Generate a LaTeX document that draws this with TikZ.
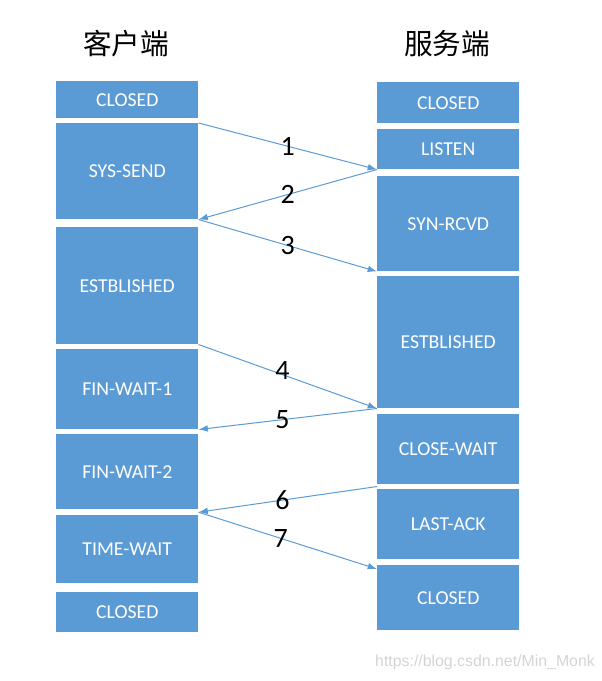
\documentclass[tikz,border=0pt]{standalone}
\usepackage{fontspec}
\setmainfont{Carlito}
\newfontfamily\cjkfont{Noto Sans CJK SC}
\newfontfamily\wmfont{Liberation Sans}
\usetikzlibrary{arrows.meta}
\definecolor{boxblue}{HTML}{5B9BD5}
\definecolor{markgray}{HTML}{D4D4D4}

\begin{document}
\begin{tikzpicture}[x=0.75pt,y=-0.75pt]
	\tikzset{state/.style={fill=boxblue,text=white,anchor=north west,inner sep=0pt,minimum width=106.5pt,font=\fontsize{14.8}{16}\selectfont}}
	\tikzset{msg/.style={draw=boxblue,line width=0.75pt,-{Latex[length=7pt,width=5pt]}}}
	\tikzset{num/.style={font=\fontsize{21}{24}\selectfont,text=black,inner sep=0pt}}
	\tikzset{head/.style={font=\cjkfont\fontsize{21.5}{24}\selectfont}}
	\useasboundingbox (0,0) rectangle (602,681);
	% titles
	\node[head] (client) at (126,44) {客户端};
	\node[head] (server) at (447,44) {服务端};
	% client states
	\node[state,minimum height=27.75pt] (cClosedA) at (56,81) {CLOSED};
	\node[state,minimum height=72pt] (cSynSend) at (56,123) {SYS-SEND};
	\node[state,minimum height=87.75pt] (cEst) at (56,227) {ESTBLISHED};
	\node[state,minimum height=60pt] (cFinWaitA) at (56,349) {FIN-WAIT-1};
	\node[state,minimum height=56.25pt] (cFinWaitB) at (56,434) {FIN-WAIT-2};
	\node[state,minimum height=51pt] (cTimeWait) at (56,515) {TIME-WAIT};
	\node[state,minimum height=30pt] (cClosedB) at (56,592) {CLOSED};
	% server states
	\node[state,minimum height=30.75pt] (sClosedA) at (377,82) {CLOSED};
	\node[state,minimum height=30pt] (sListen) at (377,129) {LISTEN};
	\node[state,minimum height=71.25pt] (sSynRcvd) at (377,176) {SYN-RCVD};
	\node[state,minimum height=99pt] (sEst) at (377,276) {ESTBLISHED};
	\node[state,minimum height=52.5pt] (sCloseWait) at (377,414) {CLOSE-WAIT};
	\node[state,minimum height=52.5pt] (sLastAck) at (377,489) {LAST-ACK};
	\node[state,minimum height=48.75pt] (sClosedB) at (377,565) {CLOSED};
	% messages
	\draw[msg] (cSynSend.north east) -- node[num] {1} (sListen.south west);
	\draw[msg] (sListen.south west) -- node[num] {2} (cSynSend.south east);
	\draw[msg] (cSynSend.south east) -- node[num] {3} (sSynRcvd.south west);
	\draw[msg] (cEst.south east) -- node[num,pos=0.47,yshift=3pt] {4} (sEst.south west);
	\draw[msg] (sEst.south west) -- node[num,pos=0.53] {5} (cFinWaitA.south east);
	\draw[msg] ([yshift=-1.5pt]sCloseWait.south west) -- node[num,pos=0.53] {6} ([yshift=-2pt]cFinWaitB.south east);
	\draw[msg] ([yshift=-2pt]cFinWaitB.south east) -- node[num,pos=0.46] {7} ([yshift=-3pt]sClosedB.north west);
	% watermark
	\node[text=markgray,font=\wmfont\fontsize{11.9}{14}\selectfont] (mark) at (485,662) {https://blog.csdn.net/Min\_Monk};
\end{tikzpicture}
\end{document}
